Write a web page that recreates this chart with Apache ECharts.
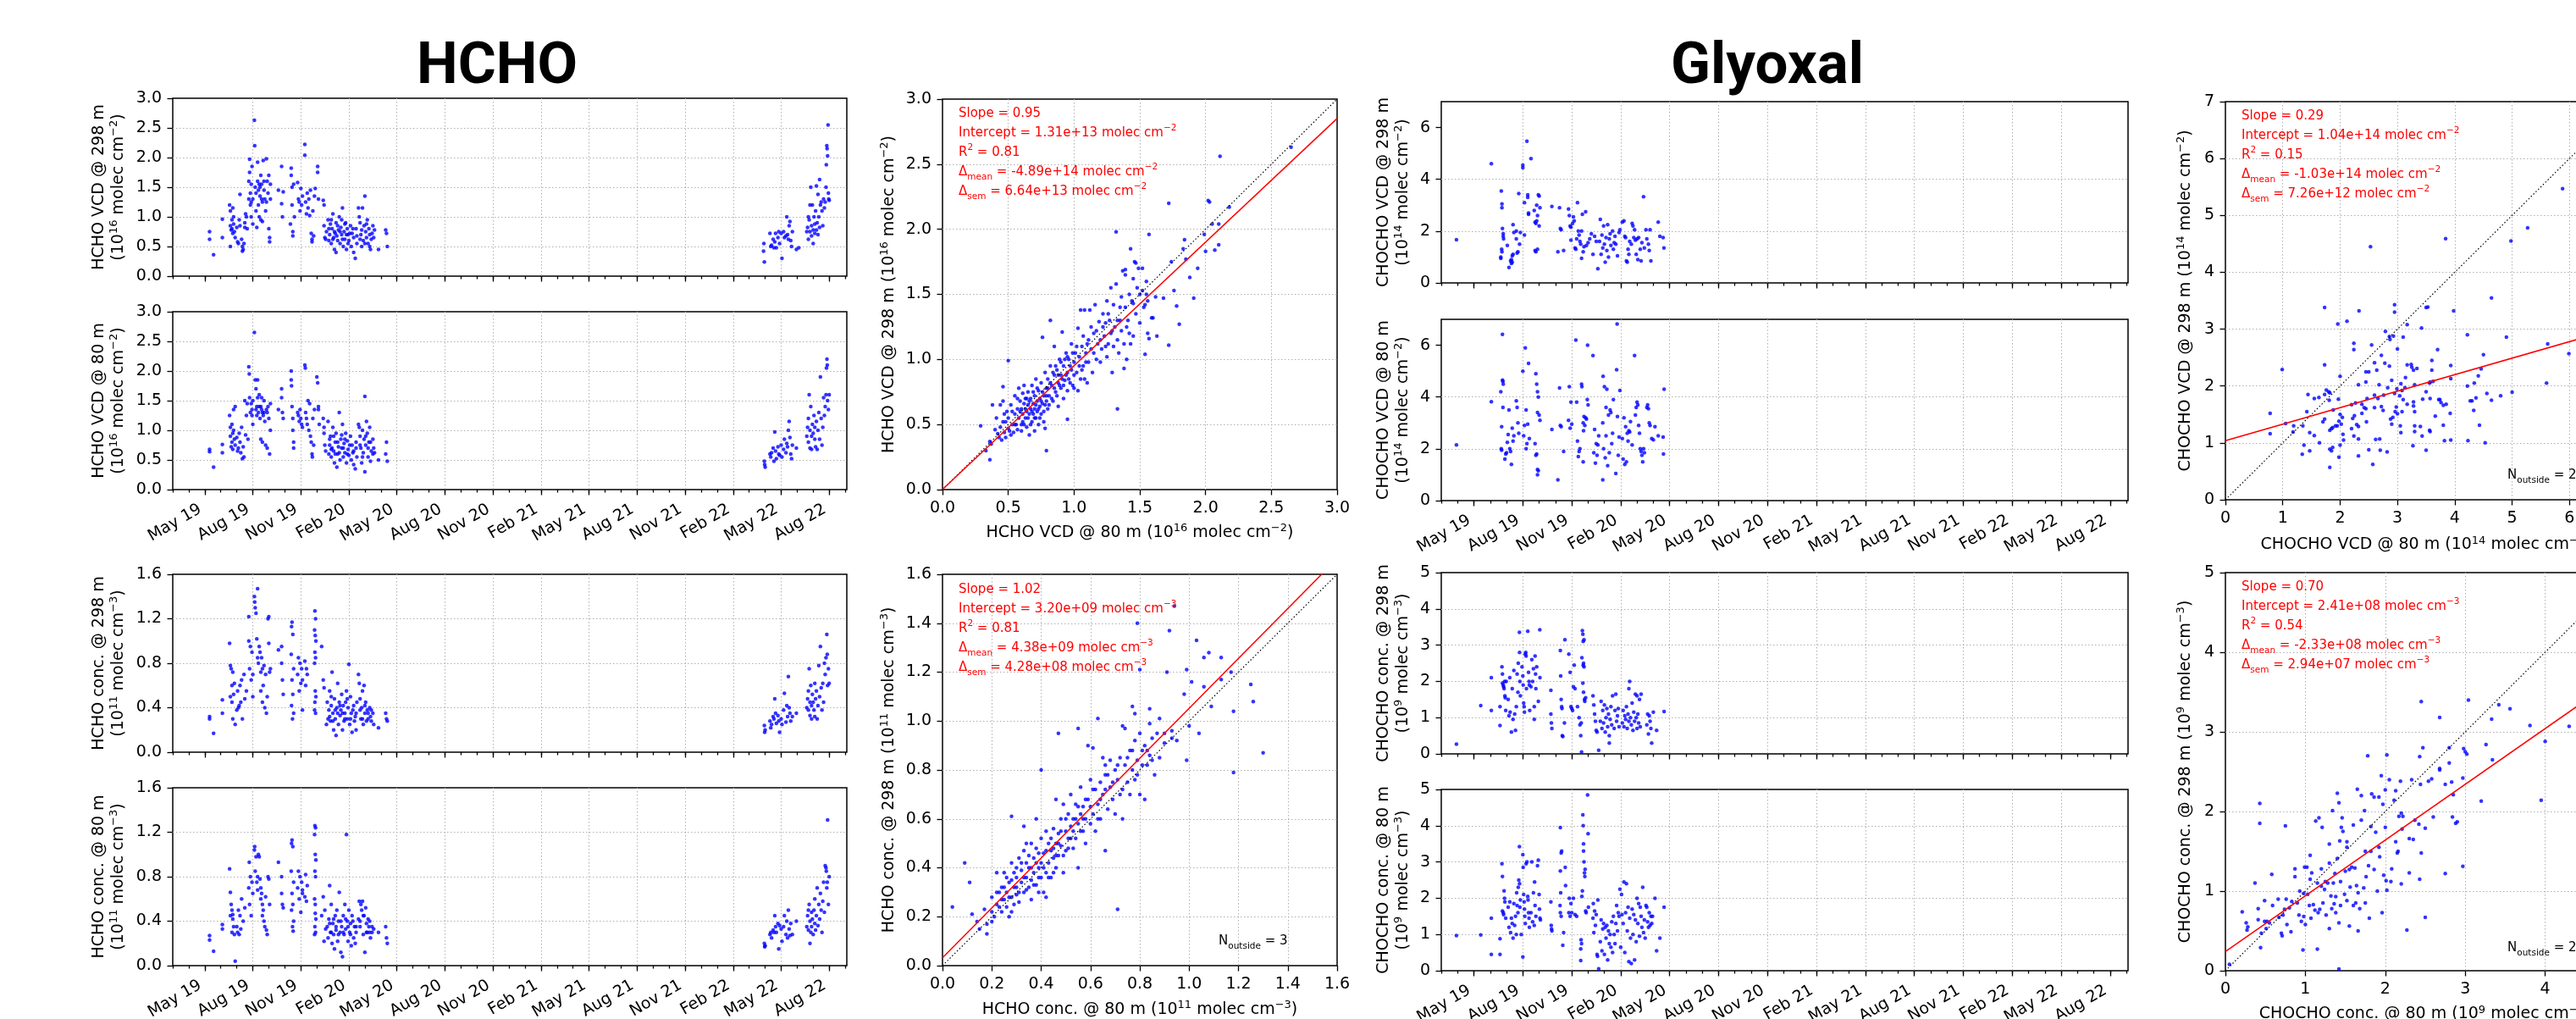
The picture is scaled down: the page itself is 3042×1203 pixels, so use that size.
<!DOCTYPE html>
<html>
<head>
<meta charset="utf-8">
<title>HCHO and glyoxal: 298 m vs 80 m</title>
<script src="https://cdn.jsdelivr.net/npm/echarts@6.0.0/dist/echarts.min.js"></script>
<style>
  html, body { margin: 0; padding: 0; background: #fff; }
  #chart { width: 3042px; height: 1203px; }
</style>
</head>
<body>
<div id="chart"></div>
<script>
// time axis is in months since 1 Jan 2019 (4 = May 19, 43 = Aug 22)
const monthTicks = [4, 7, 10, 13, 16, 19, 22, 25, 28, 31, 34, 37, 40, 43]
const monthLabels = ['May 19', 'Aug 19', 'Nov 19', 'Feb 20', 'May 20', 'Aug 20', 'Nov 20',
  'Feb 21', 'May 21', 'Aug 21', 'Nov 21', 'Feb 22', 'May 22', 'Aug 22']

const hchoVcdTicks = [0, 0.5, 1, 1.5, 2, 2.5, 3]
const hchoConcTsTicks = [0, 0.4, 0.8, 1.2, 1.6]
const hchoConcScTicks = [0, 0.2, 0.4, 0.6, 0.8, 1, 1.2, 1.4, 1.6]
const glyVcdTsTicks = [0, 2, 4, 6]
const glyVcdScTicks = [0, 1, 2, 3, 4, 5, 6, 7]
const glyConcTicks = [0, 1, 2, 3, 4, 5]

// fit statistics, order: HCHO VCD, HCHO conc, CHOCHO VCD, CHOCHO conc
const fitSlope = [0.95, 1.02, 0.29, 0.70]
const fitIntercept = [1.31e13, 3.20e9, 1.04e14, 2.41e8]
const fitR2 = [0.81, 0.81, 0.15, 0.54]
const deltaMean = [-4.89e14, 4.38e9, -1.03e14, -2.33e8]
const deltaSem = [6.64e13, 4.28e8, 7.26e12, 2.94e7]
const unitScale = [1e16, 1e11, 1e14, 1e9]
const unitPower = ['−2', '−3', '−2', '−3']
const nOutside = [0, 3, 2, 2]

// HCHO VCD @ 298 m, [month, 1e16 molec cm-2]
const hchoVcd298 = [
  [4.3,0.75],[4.3,0.62],[4.55,0.36],[5.1,0.96],[5.1,0.65],
  [5.55,1.2],[5.6,1.1],[5.6,0.85],[5.65,0.78],[5.7,0.95],[5.7,0.8],[5.75,1.15],[5.75,0.72],[5.8,0.88],[5.8,1.0],[5.85,0.75],[5.6,0.5],[5.9,0.65],
  [6.0,0.82],[6.05,0.58],[6.1,0.55],[6.15,0.95],[6.2,0.85],[6.2,1.38],[6.3,0.62],[6.35,0.5],[6.35,0.42],[6.4,0.45],[6.45,0.55],[6.5,0.9],[6.5,0.82],[6.55,1.05],[6.6,1.0],[6.65,0.8],
  [6.75,1.6],[6.75,1.3],[6.8,1.97],[6.8,1.75],[6.85,1.2],[6.85,1.4],[6.9,1.55],[6.9,1.0],[6.9,1.25],[6.95,1.85],[7.0,1.3],[7.0,0.88],
  [7.1,2.63],[7.12,2.2],[7.15,1.5],[7.2,1.4],[7.2,1.1],[7.25,0.82],[7.3,1.92],[7.3,1.6],[7.35,1.45],[7.35,1.2],[7.4,1.0],[7.4,1.55],[7.45,1.35],[7.45,1.5],[7.5,1.7],[7.5,0.95],[7.55,1.55],[7.55,1.3],[7.6,1.25],[7.6,0.92],[7.65,1.95],[7.7,1.45],[7.7,1.6],[7.75,1.3],[7.8,1.1],[7.85,1.98],[7.85,1.25],[7.9,1.6],[7.95,1.4],[8.0,1.7],[8.0,0.8],[8.05,0.65],[8.05,0.58],[8.1,1.3],[8.1,1.55],
  [8.6,1.45],[8.8,1.85],[8.8,1.22],[8.85,1.0],[8.9,1.42],
  [9.35,0.88],[9.4,1.82],[9.4,1.7],[9.45,1.5],[9.45,1.2],[9.5,0.75],[9.5,0.68],[9.55,1.55],[9.6,1.0],
  [9.8,1.58],[9.85,1.3],[9.9,1.25],[9.95,1.1],[10.0,1.48],[10.05,1.2],[10.1,1.35],
  [10.25,2.22],[10.25,2.04],[10.3,1.25],[10.35,1.05],[10.4,1.4],[10.45,1.15],[10.5,1.3],[10.55,1.02],[10.6,1.45],[10.65,0.72],[10.7,0.62],[10.7,0.58],[10.75,1.1],[10.8,0.68],[10.85,1.35],[10.9,1.48],
  [11.05,1.85],[11.05,1.75],[11.1,1.3],
  [11.4,1.28],[11.45,1.2],[11.45,0.85],[11.5,0.65],[11.55,0.62],[11.6,0.75],
  [11.7,0.95],[11.75,0.6],[11.75,0.8],[11.8,0.7],[11.85,0.88],[11.9,0.55],[11.9,0.95],[11.95,0.8],[12.0,1.05],[12.0,0.62],[12.05,0.65],[12.1,0.45],[12.1,0.75],[12.15,0.72],[12.2,0.9],[12.2,0.4],[12.25,0.68],[12.3,0.6],[12.3,0.85],[12.35,0.78],[12.4,1.0],[12.45,0.55],[12.45,0.75],[12.5,0.82],[12.55,0.7],[12.55,0.95],[12.6,1.15],[12.6,0.62],[12.65,0.5],[12.7,0.75],[12.75,0.62],[12.75,0.88],[12.8,0.9],[12.85,0.45],[12.85,0.7],[12.9,0.8],[12.95,0.7],[12.95,0.55],[13.0,0.6],[13.05,0.72],[13.1,0.85],[13.15,0.5],[13.2,0.72],[13.25,0.8],[13.3,0.4],[13.3,0.65],[13.4,0.3],[13.45,0.8],[13.5,0.55],[13.5,0.68],
  [13.6,1.15],[13.65,1.0],[13.7,0.9],[13.7,0.62],[13.75,0.7],[13.8,0.5],[13.8,0.78],[13.85,1.15],[13.9,0.6],[13.95,0.85],[14.0,1.35],[14.0,0.55],[14.05,0.75],[14.1,0.65],[14.1,0.88],[14.15,0.95],[14.2,0.55],[14.25,0.8],[14.3,0.7],[14.3,0.5],[14.35,0.45],[14.4,0.62],[14.45,0.72],[14.5,0.85],[14.55,0.65],[14.6,0.78],
  [14.85,0.45],[15.3,0.78],[15.35,0.72],[15.4,0.5],
  [38.9,0.42],[38.92,0.55],[38.95,0.24],[39.3,0.72],[39.35,0.5],[39.4,0.52],[39.5,0.62],[39.55,0.48],[39.6,0.58],[39.65,0.72],[39.7,0.48],[39.8,0.65],[39.85,0.75],[39.9,0.55],[40.0,0.72],[40.05,0.3],[40.15,0.75],[40.2,0.65],[40.3,0.68],[40.35,1.0],[40.4,0.7],[40.45,0.62],[40.5,0.85],[40.55,0.92],[40.6,0.6],[40.65,0.5],[40.7,0.75],[40.95,0.45],[41.1,0.48],
  [41.6,0.75],[41.65,0.82],[41.7,1.0],[41.7,0.62],[41.75,0.95],[41.8,1.2],[41.8,0.75],[41.85,1.5],[41.9,0.85],[41.9,0.68],[41.95,1.2],[42.0,0.78],[42.0,0.55],[42.05,1.0],[42.1,0.88],[42.1,0.72],[42.15,1.1],[42.2,1.52],[42.2,0.78],[42.25,0.9],[42.3,1.38],[42.3,0.7],[42.35,1.0],[42.4,1.63],[42.4,0.82],[42.45,1.2],[42.5,1.25],[42.55,1.1],[42.6,0.85],[42.65,1.3],[42.7,1.15],[42.75,1.25],[42.8,1.5],[42.82,1.88],[42.85,2.2],[42.87,2.15],[42.9,2.03],[42.93,2.55],[42.95,1.4],[42.97,1.3],[43.0,1.28]
]

// HCHO VCD @ 80 m
const hchoVcd80 = [
  [4.3,0.68],[4.3,0.64],[4.55,0.38],[5.1,0.76],[5.1,0.62],
  [5.55,1.25],[5.6,1.05],[5.6,0.9],[5.65,0.72],[5.7,1.1],[5.7,0.8],[5.75,0.95],[5.75,0.68],[5.8,1.35],[5.8,1.0],[5.85,0.85],[5.9,0.75],[5.9,1.4],
  [6.0,0.88],[6.05,0.65],[6.1,0.7],[6.15,0.95],[6.2,0.8],[6.25,0.62],[6.3,1.05],[6.35,0.52],[6.4,0.72],[6.45,0.55],[6.5,1.5],[6.55,0.92],[6.6,1.25],[6.65,1.45],[6.7,0.85],
  [6.75,2.07],[6.78,1.95],[6.8,1.55],[6.85,1.3],[6.9,1.45],[6.95,1.25],[6.95,1.35],[7.0,1.5],[7.0,1.1],
  [7.1,2.65],[7.15,1.85],[7.2,1.7],[7.2,1.35],[7.25,1.25],[7.25,1.4],[7.3,1.85],[7.3,1.55],[7.35,1.3],[7.4,1.6],[7.4,1.4],[7.45,1.2],[7.5,1.4],[7.5,0.85],[7.55,1.55],[7.55,1.35],[7.6,1.3],[7.6,0.8],[7.65,1.25],[7.7,1.5],[7.7,1.3],[7.75,1.15],[7.8,0.75],[7.85,1.35],[7.9,1.3],[7.9,0.7],[7.95,1.4],[8.0,1.2],[8.05,0.6],[8.1,1.45],[8.1,1.0],
  [8.6,1.35],[8.8,1.7],[8.8,1.55],[8.85,1.3],[8.9,1.2],
  [9.4,2.0],[9.4,1.85],[9.42,1.75],[9.45,1.4],[9.5,1.2],[9.5,1.0],[9.55,0.8],[9.55,0.7],
  [9.8,1.3],[9.85,1.25],[9.9,1.15],[9.95,1.35],[10.0,1.2],[10.05,1.1],[10.1,1.05],
  [10.25,2.1],[10.28,2.05],[10.3,1.3],[10.35,1.2],[10.4,1.1],[10.45,1.5],[10.5,1.0],[10.55,1.45],[10.6,0.9],[10.65,0.8],[10.7,0.6],[10.72,0.55],[10.75,1.2],[10.8,0.75],[10.85,1.35],
  [11.0,1.9],[11.05,1.8],[11.1,1.4],[11.1,1.35],[11.15,1.1],
  [11.4,1.2],[11.45,1.05],[11.45,0.95],[11.5,0.75],[11.55,0.65],
  [11.7,1.15],[11.75,0.6],[11.8,0.75],[11.8,0.85],[11.85,0.9],[11.9,0.55],[11.9,0.68],[11.95,0.7],[12.0,1.05],[12.05,0.65],[12.05,0.9],[12.1,0.45],[12.15,0.8],[12.15,0.6],[12.2,0.95],[12.25,0.38],[12.3,0.6],[12.3,0.8],[12.35,0.72],[12.4,1.3],[12.4,0.62],[12.45,0.5],[12.5,0.85],[12.55,0.7],[12.55,0.92],[12.6,1.1],[12.65,0.55],[12.65,0.7],[12.7,0.78],[12.75,0.62],[12.75,0.85],[12.8,0.95],[12.85,0.45],[12.9,0.82],[12.9,0.6],[12.95,0.68],[13.0,0.58],[13.05,0.75],[13.1,0.9],[13.15,0.5],[13.2,0.75],[13.25,0.62],[13.3,0.42],[13.3,0.65],[13.4,0.35],[13.45,0.8],[13.45,0.7],[13.5,0.55],
  [13.6,1.1],[13.65,1.05],[13.7,0.9],[13.7,0.75],[13.75,0.7],[13.8,0.45],[13.85,1.0],[13.85,0.55],[13.9,0.62],[13.95,0.85],[14.0,1.57],[14.0,0.3],[14.05,0.75],[14.05,0.9],[14.1,1.15],[14.15,0.95],[14.2,0.55],[14.2,0.7],[14.25,0.8],[14.3,1.05],[14.35,0.48],[14.35,0.8],[14.4,0.65],[14.5,0.85],[14.5,0.6],[14.55,0.7],[14.6,0.62],
  [14.85,0.5],[15.3,0.6],[15.35,0.8],[15.4,0.48],
  [38.95,0.48],[38.97,0.42],[39.0,0.38],[39.3,0.6],[39.35,0.55],[39.4,0.62],[39.5,0.7],[39.55,0.48],[39.6,0.97],[39.65,0.65],[39.7,0.52],[39.8,0.72],[39.85,0.6],[39.9,0.58],[40.0,0.75],[40.05,0.55],[40.15,0.68],[40.2,0.85],[40.3,0.62],[40.35,0.78],[40.4,0.72],[40.45,1.0],[40.5,1.15],[40.55,0.88],[40.6,0.6],[40.65,0.52],[40.7,0.75],[40.95,0.7],
  [41.6,0.9],[41.65,1.05],[41.7,1.2],[41.7,0.8],[41.75,1.6],[41.8,1.0],[41.8,0.7],[41.85,1.4],[41.9,0.9],[41.9,0.68],[41.95,1.1],[42.0,0.95],[42.05,1.25],[42.1,0.85],[42.1,1.05],[42.15,0.72],[42.2,1.15],[42.25,0.68],[42.3,1.0],[42.35,1.3],[42.4,0.85],[42.45,1.9],[42.5,1.2],[42.55,0.75],[42.6,1.05],[42.65,1.55],[42.7,1.25],[42.75,1.4],[42.8,1.6],[42.83,2.05],[42.86,2.2],[42.88,2.1],[42.9,1.5],[42.95,1.35],[43.0,1.6]
]

// HCHO conc. @ 298 m, [month, 1e11 molec cm-3]
const hchoConc298 = [
  [4.3,0.32],[4.3,0.3],[4.55,0.17],[5.1,0.47],[5.1,0.35],
  [5.55,0.98],[5.6,0.78],[5.6,0.5],[5.65,0.75],[5.7,0.6],[5.7,0.45],[5.75,0.72],[5.75,0.3],[5.8,0.52],[5.85,0.62],[5.9,0.25],
  [6.0,0.38],[6.05,0.55],[6.1,0.4],[6.15,0.42],[6.2,0.6],[6.25,0.45],[6.3,0.65],[6.35,0.3],[6.45,0.7],[6.5,0.48],[6.6,0.55],
  [6.75,1.0],[6.75,1.22],[6.8,0.75],[6.85,0.95],[6.9,0.65],[6.95,0.9],[7.0,0.5],[7.0,0.7],
  [7.1,1.4],[7.12,1.35],[7.15,1.3],[7.2,1.25],[7.3,1.47],[7.25,1.02],[7.3,0.85],[7.35,0.8],[7.4,0.95],[7.45,0.9],[7.5,0.72],[7.5,0.55],[7.55,0.85],[7.6,0.45],[7.6,0.75],[7.65,0.6],[7.7,0.78],[7.75,0.4],[7.8,0.7],[7.85,0.35],[7.9,0.5],[7.95,1.2],[8.0,1.22],[8.0,0.98],[8.05,0.72],[8.1,0.75],
  [8.6,0.92],[8.8,0.95],[8.8,0.8],[8.85,0.65],[8.9,0.52],
  [9.45,1.17],[9.42,1.13],[9.5,1.06],[9.4,0.88],[9.55,0.75],[9.45,0.65],[9.5,0.52],[9.42,0.42],[9.55,0.35],[9.48,0.3],
  [9.8,0.7],[9.85,0.85],[9.9,0.55],[9.95,0.8],[10.0,0.62],[10.05,0.75],[10.1,0.65],[10.1,0.38],
  [10.25,0.82],[10.3,0.6],[10.35,0.75],[10.4,0.7],
  [10.88,1.27],[10.92,1.2],[10.86,1.1],[10.9,1.05],[10.94,1.0],[10.88,0.9],[10.92,0.85],[10.86,0.8],[10.9,0.55],[10.94,0.5],[10.88,0.45],[10.92,0.35],[10.86,0.38],
  [11.3,0.95],[11.4,0.65],[11.45,0.58],
  [11.6,0.25],[11.65,0.45],[11.7,0.3],[11.75,0.38],[11.8,0.55],[11.8,0.32],[11.85,0.28],[11.9,0.42],[11.9,0.5],[11.95,0.72],[12.0,0.35],[12.0,0.28],[12.05,0.2],[12.1,0.48],[12.15,0.3],[12.15,0.38],[12.2,0.15],[12.25,0.4],[12.3,0.62],[12.3,0.35],[12.35,0.25],[12.4,0.45],[12.45,0.33],[12.45,0.42],[12.5,0.38],[12.55,0.52],[12.6,0.2],[12.6,0.35],[12.65,0.42],[12.7,0.28],[12.75,0.35],[12.75,0.3],[12.8,0.45],[12.85,0.55],[12.9,0.3],[12.9,0.48],[12.95,0.4],[13.0,0.79],[13.05,0.25],[13.1,0.5],[13.1,0.3],[13.15,0.35],[13.2,0.18],[13.25,0.38],[13.3,0.42],[13.35,0.28],[13.4,0.32],[13.45,0.2],[13.45,0.35],[13.5,0.45],
  [13.6,0.7],[13.65,0.62],[13.7,0.48],[13.7,0.38],[13.75,0.3],[13.8,0.4],[13.85,0.55],[13.85,0.3],[13.9,0.25],[13.95,0.6],[14.0,0.35],[14.0,0.42],[14.05,0.45],[14.1,0.28],[14.15,0.38],[14.2,0.3],[14.2,0.35],[14.3,0.4],[14.35,0.32],[14.4,0.28],[14.4,0.38],[14.5,0.35],[14.55,0.25],
  [14.85,0.22],[15.3,0.35],[15.35,0.3],[15.4,0.28],
  [38.95,0.24],[38.97,0.18],[39.0,0.2],[39.3,0.28],[39.35,0.22],[39.4,0.25],[39.5,0.32],[39.55,0.3],[39.6,0.48],[39.65,0.35],[39.7,0.26],[39.8,0.33],[39.85,0.28],[39.9,0.18],[40.0,0.3],[40.05,0.25],[40.15,0.38],[40.2,0.53],[40.3,0.27],[40.35,0.42],[40.4,0.32],[40.45,0.68],[40.5,0.4],[40.55,0.35],[40.6,0.28],[40.7,0.32],[40.95,0.35],
  [41.6,0.4],[41.65,0.48],[41.7,0.55],[41.7,0.38],[41.75,0.75],[41.8,0.45],[41.8,0.33],[41.85,0.6],[41.9,0.42],[41.9,0.3],[41.95,0.52],[42.0,0.45],[42.05,0.38],[42.1,0.62],[42.1,0.32],[42.15,0.48],[42.2,0.55],[42.25,0.3],[42.3,0.42],[42.35,0.78],[42.4,0.5],[42.45,0.95],[42.5,0.58],[42.55,0.38],[42.6,0.62],[42.65,0.45],[42.7,0.8],[42.75,0.7],[42.8,0.85],[42.85,1.06],[42.88,0.88],[42.9,0.6],[42.95,0.75],[43.0,0.62]
]

// HCHO conc. @ 80 m
const hchoConc80 = [
  [4.3,0.27],[4.3,0.23],[4.55,0.13],[5.1,0.37],[5.1,0.33],[5.9,0.04],
  [5.55,0.87],[5.6,0.66],[5.6,0.45],[5.65,0.55],[5.7,0.5],[5.7,0.3],[5.75,0.46],[5.75,0.42],[5.8,0.35],[5.85,0.28],
  [6.0,0.35],[6.05,0.3],[6.1,0.5],[6.15,0.28],[6.2,0.45],[6.25,0.33],[6.3,0.6],[6.4,0.4],[6.5,0.52],
  [6.75,0.7],[6.78,0.93],[6.8,0.55],[6.85,0.8],[6.9,0.45],[6.95,0.75],[7.0,0.65],
  [7.12,1.07],[7.1,1.04],[7.2,0.98],[7.15,0.85],[7.3,0.8],[7.25,0.75],[7.3,0.68],[7.35,1.0],[7.4,0.98],[7.45,0.78],[7.5,0.7],[7.5,0.6],[7.55,0.65],[7.6,0.55],[7.6,0.45],[7.65,0.5],[7.7,0.4],[7.75,0.35],[7.8,0.62],[7.85,0.32],[7.9,0.28],[7.95,0.8],[8.0,0.78],[8.05,0.55],
  [8.6,0.93],[8.8,0.8],[8.8,0.65],[8.85,0.55],[8.9,0.52],
  [9.45,1.13],[9.42,1.1],[9.5,1.07],[9.4,0.85],[9.55,0.75],[9.45,0.65],[9.5,0.55],[9.42,0.5],[9.55,0.4],[9.48,0.35],[9.52,0.31],
  [9.8,0.7],[9.85,0.85],[9.9,0.6],[9.95,0.8],[10.0,0.48],[10.05,0.75],[10.1,0.68],[10.1,0.65],
  [10.25,0.62],[10.3,0.82],[10.35,0.58],[10.4,0.72],
  [10.88,1.26],[10.92,1.24],[10.86,1.18],[10.9,1.0],[10.94,0.95],[10.88,0.85],[10.92,0.8],[10.86,0.6],[10.9,0.55],[10.94,0.42],[10.88,0.35],[10.92,0.3],[10.86,0.28],[10.9,0.47],
  [11.3,0.45],[11.4,0.62],[11.45,0.22],[11.5,0.5],[11.55,0.33],
  [11.65,0.35],[11.7,0.25],[11.75,0.42],[11.8,0.72],[11.8,0.38],[11.85,0.3],[11.9,0.55],[11.9,0.3],[11.95,0.2],[12.0,0.38],[12.05,0.28],[12.05,0.42],[12.1,0.15],[12.15,0.45],[12.2,0.32],[12.2,0.35],[12.25,0.5],[12.3,0.22],[12.35,0.4],[12.35,0.28],[12.4,0.66],[12.45,0.3],[12.5,0.12],[12.5,0.4],[12.55,0.35],[12.6,0.08],[12.65,0.45],[12.65,0.3],[12.7,0.28],[12.75,0.55],[12.8,0.33],[12.8,0.42],[12.85,1.18],[12.9,0.4],[12.95,0.22],[12.95,0.35],[13.0,0.5],[13.05,0.3],[13.1,0.38],[13.1,0.28],[13.15,0.18],[13.2,0.45],[13.25,0.4],[13.3,0.25],[13.35,0.35],[13.4,0.2],[13.45,0.3],[13.45,0.35],
  [13.6,0.42],[13.65,0.58],[13.7,0.35],[13.7,0.4],[13.75,0.55],[13.8,0.5],[13.85,0.58],[13.9,0.28],[13.9,0.45],[13.95,0.45],[14.0,0.12],[14.05,0.52],[14.1,0.38],[14.1,0.3],[14.15,0.3],[14.2,0.42],[14.25,0.35],[14.3,0.3],[14.3,0.4],[14.35,0.25],[14.45,0.3],[14.45,0.35],[14.55,0.33],
  [14.85,0.3],[15.3,0.35],[15.35,0.25],[15.4,0.2],
  [38.95,0.2],[38.97,0.17],[39.0,0.18],[39.3,0.28],[39.35,0.3],[39.4,0.25],[39.5,0.32],[39.55,0.3],[39.6,0.45],[39.65,0.35],[39.7,0.3],[39.8,0.38],[39.85,0.15],[39.9,0.36],[40.0,0.33],[40.05,0.22],[40.15,0.35],[40.2,0.45],[40.3,0.28],[40.35,0.4],[40.4,0.25],[40.45,0.5],[40.5,0.33],[40.55,0.27],[40.6,0.38],[40.7,0.28],[40.95,0.4],
  [41.6,0.35],[41.65,0.45],[41.7,0.5],[41.7,0.32],[41.75,0.55],[41.8,0.2],[41.8,0.4],[41.85,0.3],[41.9,0.48],[41.9,0.35],[41.95,0.42],[42.0,0.28],[42.05,0.5],[42.1,0.38],[42.1,0.6],[42.15,0.32],[42.2,0.45],[42.25,0.7],[42.3,0.36],[42.35,0.55],[42.4,0.42],[42.45,0.65],[42.5,0.5],[42.55,0.3],[42.6,0.58],[42.65,0.75],[42.7,0.48],[42.75,0.9],[42.8,0.88],[42.82,0.85],[42.85,0.7],[42.88,0.75],[42.9,1.31],[42.95,0.55],[43.0,0.8]
]

// CHOCHO VCD @ 298 m, [month, 1e14 molec cm-2]
const glyVcd298 = [
  [2.93,1.67],[5.07,4.6],
  [5.68,3.55],[5.72,3.05],[5.72,2.9],[5.75,2.1],[5.7,1.3],[5.72,1.2],[5.65,1.0],[5.65,0.95],[5.8,1.9],[5.8,1.8],[5.82,1.7],
  [6.05,1.45],[6.15,0.6],[6.25,0.85],[6.3,0.9],[6.35,1.05],[6.4,1.1],[6.4,2.25],[6.45,1.95],[6.3,0.75],[6.35,0.8],[6.6,2.0],[6.6,1.7],[6.7,1.2],[6.65,1.15],[6.75,3.45],[6.8,1.5],[6.85,1.95],
  [7.0,4.55],[7.0,4.45],[7.25,5.47],[7.1,3.1],[7.3,3.4],[7.3,3.3],[7.35,2.7],[7.35,2.65],[7.5,4.8],[7.1,1.85],
  [7.7,2.8],[7.75,2.35],[7.8,2.3],[7.85,2.4],[7.85,3.0],[7.95,3.4],[8.0,3.35],[7.9,2.6],[8.0,2.2],[7.75,1.25],[7.9,1.3],[7.8,1.2],[8.05,2.9],
  [8.78,2.95],[9.15,1.2],[9.25,2.9],[9.3,2.1],[9.35,2.05],[9.5,1.25],
  [9.8,2.85],[9.85,2.6],[9.9,2.2],[9.95,2.15],[9.95,1.65],[10.05,2.3],[10.1,2.55],[10.15,2.4],[10.2,1.35],[10.25,1.3],[10.3,1.7],[10.35,3.1],[10.4,2.0],[10.45,1.85],[10.5,1.6],[10.55,1.5],[10.6,0.95],[10.6,2.0],[10.65,2.65],[10.7,1.2],[10.75,1.4],
  [10.85,2.75],[10.9,1.45],[11.0,1.55],[11.1,1.7],[11.2,1.9],[11.6,0.55],[11.3,1.1],[11.4,1.8],[11.5,1.6],
  [11.7,1.6],[11.75,2.45],[11.8,1.1],[11.85,1.85],[11.9,1.35],[11.95,2.2],[12.0,1.5],[12.05,0.8],[12.1,1.75],[12.15,1.25],[12.2,2.25],[12.25,1.0],[12.3,1.7],[12.35,1.9],[12.4,1.45],[12.5,2.0],[12.55,1.3],[12.6,1.55],[12.65,1.8],[12.7,1.5],[12.8,1.05],[12.9,1.95],[12.95,2.05],
  [13.1,2.35],[13.2,2.4],[13.25,1.8],[13.3,1.75],[13.35,0.85],[13.4,0.8],[13.45,1.3],[13.5,1.1],[13.55,1.6],[13.65,1.5],[13.7,2.3],[13.75,2.2],[13.8,1.75],[13.85,2.05],[13.9,1.65],[13.95,1.1],[14.0,1.7],[14.05,0.9],[14.1,1.75],[14.2,1.3],[14.25,0.85],[14.3,1.55],[14.4,3.33],[14.45,1.35],
  [14.55,2.05],[14.6,1.7],[14.7,1.5],[14.75,1.25],[14.85,0.85],[14.8,2.05],[15.3,2.35],[15.4,1.8],[15.6,1.75],[15.65,1.35]
]

// CHOCHO VCD @ 80 m
const glyVcd80 = [
  [2.93,2.15],[5.07,3.82],
  [5.65,4.2],[5.7,2.85],[5.68,2.0],[5.7,1.95],[5.75,4.65],[5.78,4.6],[5.8,4.5],[5.75,6.42],[5.78,3.6],
  [5.9,1.6],[5.95,1.8],[6.0,1.85],[6.05,2.25],[6.1,2.55],[6.15,3.5],[6.2,2.0],[6.25,1.9],[6.3,1.4],[6.35,2.8],[6.4,2.3],[6.45,2.5],[6.6,3.85],[6.65,3.6],[6.7,3.0],[6.75,2.6],
  [7.0,5.0],[7.15,5.9],[7.2,3.5],[7.05,2.5],[7.1,2.9],[7.2,2.0],[7.25,2.2],[7.35,5.3],[7.3,2.95],[7.4,2.4],
  [7.8,4.9],[7.85,4.5],[7.9,4.2],[7.95,4.0],[7.9,3.4],[8.0,3.3],[8.05,3.1],[7.75,2.2],[7.8,1.75],[7.85,1.8],[7.9,1.2],[7.95,1.15],[7.9,1.0],
  [8.78,2.75],[9.15,0.8],[9.25,4.35],[9.3,2.9],[9.35,2.85],[9.5,1.9],
  [9.8,3.1],[9.85,4.4],[9.9,2.8],[9.95,3.8],[10.0,2.95],[10.25,6.2],[10.3,3.8],[10.35,2.3],[10.4,1.7],[10.45,1.9],[10.5,2.0],[10.6,4.5],[10.62,4.4],[10.7,3.0],[10.72,2.7],[10.75,3.25],[10.8,2.9],[10.85,3.2],[10.9,3.15],[10.7,1.5],[10.95,3.9],[10.97,6.0],[11.0,3.7],
  [11.3,5.6],[11.35,1.85],[11.4,2.75],[11.45,1.45],[11.5,2.2],[11.55,1.75],[11.6,2.15],[11.65,2.5],
  [11.9,3.0],[11.92,4.8],[11.95,2.0],[12.0,4.4],[12.05,1.65],[12.1,3.6],[12.1,2.5],[12.15,4.3],[12.2,1.35],[12.25,3.3],[12.3,1.85],[12.35,3.5],[11.9,0.8],[12.4,3.4],[12.45,2.2],[12.5,2.6],[12.55,3.9],[12.78,6.82],[12.75,5.05],[12.8,3.25],[12.7,1.05],[12.85,1.75],[12.9,2.45],[12.95,4.25],
  [13.1,2.4],[13.15,1.6],[13.2,3.2],[13.25,1.4],[13.3,2.85],[13.35,1.5],[13.4,2.6],[13.45,2.3],[13.5,2.7],[13.55,2.65],[13.6,3.05],[13.7,2.15],[13.85,5.6],[13.9,3.3],[13.95,3.6],[14.0,3.8],[14.05,3.7],[14.1,2.9],[14.15,2.6],[14.2,2.0],[14.25,1.9],[14.3,1.75],[14.35,1.5],[14.4,2.0],[14.45,1.85],
  [14.6,3.6],[14.65,3.7],[14.7,3.55],[14.75,3.0],[14.8,2.9],[14.9,2.4],[15.0,2.35],[15.1,2.85],[15.3,2.5],[15.66,4.3],[15.6,2.45],[15.62,1.8]
]

// CHOCHO conc. @ 298 m, [month, 1e9 molec cm-3]
const glyConc298 = [
  [2.93,0.27],[4.42,1.33],[5.07,1.2],[5.07,2.1],[5.6,0.78],[5.6,1.3],
  [5.72,2.4],[5.75,2.2],[5.75,1.95],[5.8,1.9],[5.82,1.85],[5.85,1.8],[5.88,2.0],[5.9,1.6],[5.92,1.55],[5.95,1.2],[5.98,2.0],
  [6.1,1.5],[6.15,1.05],[6.2,2.1],[6.22,1.15],[6.3,0.6],[6.35,1.8],[6.4,0.95],[6.45,2.3],[6.5,1.1],[6.55,0.65],[6.6,1.3],[6.65,2.2],[6.7,1.7],[6.72,2.5],[6.79,3.35],[6.8,2.8],[6.82,2.0],[6.85,1.6],
  [6.95,2.4],[7.0,2.15],[7.02,1.9],[7.05,1.4],[7.08,1.3],[7.1,1.15],[7.15,2.75],[7.18,2.8],[7.2,2.7],[7.22,1.8],[7.3,3.38],[7.35,2.25],[7.38,2.0],[7.4,1.9],[7.42,1.2],
  [7.5,1.85],[7.55,2.6],[7.6,2.0],[7.65,2.35],[7.7,1.3],[7.75,2.7],[7.78,2.2],[7.8,1.8],[7.85,2.4],[7.7,0.95],[8.04,3.42],[7.95,1.45],[8.05,2.1],
  [8.72,1.75],[8.72,1.1],[8.75,0.85],[8.78,0.7],[9.3,2.85],[9.32,2.15],[9.35,1.5],[9.38,1.3],[9.4,1.25],[9.42,0.5],[9.45,0.48],[9.55,0.85],[9.58,3.15],
  [9.82,2.75],[9.9,2.25],[9.95,1.3],[10.0,1.25],[10.05,1.2],[10.1,1.85],[10.15,2.45],[10.2,1.8],[10.35,1.3],[10.6,0.05],[10.45,1.0],[10.5,0.8],[10.55,0.5],[10.58,0.85],[10.62,2.65],[10.65,3.4],[10.68,3.3],[10.7,3.1],[10.75,3.15],[10.72,2.5],[10.7,2.45],[10.75,2.4],[10.68,1.95],[10.72,1.7],[10.78,1.5],[10.8,1.45],[10.85,1.55],
  [11.3,1.6],[11.35,1.35],[11.4,1.1],[11.45,0.9],[11.5,0.65],[11.55,0.6],[11.65,0.1],
  [11.75,0.9],[11.8,1.45],[11.85,0.7],[11.9,1.2],[11.95,0.85],[12.0,1.35],[12.05,0.6],[12.1,1.0],[12.15,1.25],[12.2,0.75],[12.25,1.1],[12.3,0.5],[12.35,0.95],[12.4,1.3],[12.3,0.3],[12.45,0.8],[12.5,1.6],[12.6,0.7],[12.65,1.2],[12.7,1.65],[12.75,0.9],[12.8,1.05],[12.85,1.25],[12.9,0.75],
  [13.1,0.85],[13.15,1.2],[13.2,0.75],[13.25,1.05],[13.3,0.95],[13.35,1.3],[13.4,0.7],[13.45,1.1],[13.5,0.9],[13.55,2.0],[13.5,1.8],[13.6,1.0],[13.65,0.8],[13.7,1.4],[13.75,0.65],[13.8,1.15],[13.85,0.9],[13.9,1.65],[13.95,1.0],[14.0,0.7],[14.05,1.1],[14.1,0.85],[14.15,1.5],[14.0,1.6],[14.2,0.75],[14.25,1.65],
  [14.6,0.8],[14.65,1.1],[14.7,0.55],[14.75,1.05],[14.8,0.9],[14.85,0.7],[14.9,0.3],[15.0,1.15],[15.2,0.65],[15.66,1.17]
]

// CHOCHO conc. @ 80 m
const glyConc80 = [
  [2.93,0.97],[4.42,0.99],[5.07,1.45],[5.07,0.45],[5.6,0.88],[5.6,0.45],
  [5.72,2.95],[5.75,2.6],[5.75,1.65],[5.8,1.6],[5.82,1.55],[5.85,2.2],[5.88,2.0],[5.9,1.9],[5.95,1.45],
  [6.1,1.75],[6.15,1.2],[6.2,1.9],[6.25,1.05],[6.3,1.45],[6.35,1.3],[6.4,0.9],[6.45,1.85],[6.5,1.25],[6.55,1.5],[6.6,1.0],[6.62,2.15],[6.65,1.8],[6.7,1.6],[6.72,2.3],[6.75,2.5],[6.79,3.42],[6.8,2.4],[6.82,1.75],[6.85,1.95],[6.9,1.0],
  [7.0,3.2],[7.02,2.85],[7.05,2.1],[7.08,1.9],[7.1,1.7],[7.12,1.5],[7.15,1.3],[7.0,0.38],[7.2,2.95],[7.25,3.0],[7.3,2.05],[7.32,1.95],[7.35,1.6],[7.38,1.45],[7.4,1.2],
  [7.5,1.6],[7.55,3.0],[7.6,1.35],[7.65,2.15],[7.7,1.25],[7.72,2.45],[7.75,1.8],[7.8,1.5],[7.9,2.9],[7.95,3.05],[8.0,2.1],[8.02,1.7],[8.05,1.45],[8.08,1.4],
  [8.72,1.9],[8.74,1.25],[8.76,1.15],[8.78,1.1],[9.3,3.95],[9.35,3.25],[9.38,3.3],[9.3,2.75],[9.32,2.15],[9.28,1.8],[9.3,1.6],[9.35,1.5],[9.45,0.7],[9.5,1.05],[9.6,2.85],[9.62,2.35],
  [9.82,1.6],[9.85,2.0],[9.9,1.5],[9.95,1.85],[10.0,1.6],[10.1,2.0],[10.2,1.55],[10.3,1.5],[10.55,0.6],[10.57,0.85],[10.6,0.75],[10.55,0.28],[10.62,2.05],[10.65,2.2],[10.68,4.3],[10.7,4.0],[10.72,3.3],[10.72,3.5],[10.75,3.0],[10.78,2.7],[10.8,2.6],[10.82,2.8],[10.85,1.65],[10.88,1.6],[10.97,4.85],[11.0,3.78],[11.02,1.75],
  [11.3,1.45],[11.32,1.85],[11.35,1.05],[11.4,1.65],[11.45,1.25],[11.5,1.55],[11.55,0.45],[11.58,0.4],[11.65,0.05],[11.6,1.95],
  [11.75,0.8],[11.8,1.4],[11.85,0.55],[11.9,1.15],[11.95,1.3],[12.0,0.45],[12.05,1.2],[12.1,0.9],[12.15,1.25],[12.2,0.3],[12.25,1.1],[12.3,0.75],[12.35,1.0],[12.4,0.65],[12.45,1.35],[12.5,0.5],[12.55,1.5],[12.6,1.0],[12.65,0.75],[12.7,1.3],[12.75,1.8],[12.8,1.1],[12.85,1.6],[12.9,1.5],[12.95,2.25],[13.0,0.65],[13.05,2.1],[13.08,1.55],
  [13.15,1.3],[13.2,2.45],[13.25,0.5],[13.3,1.6],[13.35,2.4],[13.4,1.1],[13.45,1.75],[13.5,0.25],[13.55,1.45],[13.6,0.9],[13.65,0.2],[13.7,1.7],[13.75,1.0],[13.8,1.55],[13.85,0.3],[13.9,1.4],[13.95,0.8],[14.0,2.0],[14.05,1.3],[14.1,1.85],[14.15,0.95],[14.2,1.75],[14.25,1.5],[14.3,1.2],[14.35,2.3],[14.4,1.05],[14.45,1.4],[14.5,0.9],[14.55,1.8],[14.6,1.75],
  [14.65,1.35],[14.7,1.2],[14.75,1.6],[14.8,1.25],[14.85,1.5],[14.9,1.3],[14.95,1.5],[15.2,0.55],[15.1,2.0],[15.4,0.9],[15.66,1.75]
]

// HCHO VCD scatter, [80 m, 298 m] in 1e16 molec cm-2
const hchoVcdPairs = [
  [2.65,2.63],[2.11,2.56],[1.72,2.2],[2.02,2.22],[2.03,2.21],[2.18,2.17],[2.05,2.04],[2.1,2.04],[1.99,1.96],[1.32,1.98],[1.57,1.96],[2.1,1.88],[2.0,1.83],[2.07,1.84],[1.84,1.92],[1.83,1.85],[1.43,1.85],[1.85,1.77],[1.74,1.75],[1.94,1.7],[1.88,1.63],[1.91,1.47],[1.68,1.47],[1.76,1.53],[1.78,1.41],[1.8,1.27],[1.72,1.11],[1.33,0.62],[0.79,0.3],[0.29,0.49],[0.36,0.23],[0.82,1.3],[0.5,0.99],[0.46,0.79],[0.95,0.54],[1.54,1.04],[1.57,1.16],[1.59,1.32],[1.63,1.18],[1.47,1.74],[1.49,1.7],[1.39,1.69],[1.39,1.65],[1.55,1.6],[1.52,1.53],[1.45,1.43],[1.54,1.42],[1.56,1.45],[1.5,1.5],
  [0.33,0.3],[0.36,0.37],[0.37,0.35],[0.38,0.65],[0.4,0.46],[0.41,0.55],[0.42,0.43],[0.43,0.4],[0.44,0.48],[0.44,0.65],[0.45,0.38],[0.46,0.52],[0.46,0.68],[0.47,0.44],[0.47,0.58],[0.48,0.4],[0.48,0.52],[0.49,0.6],[0.5,0.47],[0.5,0.55],[0.51,0.45],[0.52,0.65],[0.52,0.42],[0.53,0.5],[0.53,0.6],[0.54,0.44],[0.55,0.72],[0.55,0.58],[0.55,0.5],[0.56,0.5],[0.57,0.62],[0.57,0.46],[0.57,0.7],[0.58,0.55],[0.58,0.78],[0.59,0.68],[0.59,0.6],[0.6,0.5],[0.6,0.62],[0.6,0.45],
  [0.61,0.74],[0.61,0.58],[0.61,0.52],[0.62,0.66],[0.62,0.8],[0.62,0.5],[0.63,0.55],[0.63,0.7],[0.63,0.62],[0.64,0.6],[0.64,0.48],[0.64,0.7],[0.65,0.65],[0.65,0.75],[0.65,0.55],[0.66,0.58],[0.66,0.42],[0.66,0.68],[0.67,0.7],[0.67,0.62],[0.67,0.5],[0.68,0.8],[0.68,0.52],[0.68,0.6],[0.69,0.66],[0.69,0.58],[0.69,0.75],[0.7,0.72],[0.7,0.45],[0.7,0.62],[0.7,0.55],[0.71,0.85],[0.71,0.55],[0.71,0.65],[0.72,0.68],[0.72,0.6],[0.72,0.78],[0.73,0.76],[0.73,0.5],[0.73,0.62],[0.74,0.64],[0.74,0.7],[0.74,0.55],[0.75,0.82],[0.75,0.58],[0.75,0.68],[0.76,0.66],[0.76,1.17],[0.76,0.75],[0.77,0.72],[0.77,0.6],[0.77,0.52],[0.78,0.9],[0.78,0.47],[0.78,0.65],[0.79,0.68],[0.79,0.78],[0.79,0.72],[0.8,0.62],[0.8,0.85],[0.8,0.78],
  [0.81,0.72],[0.81,0.65],[0.82,0.95],[0.82,0.82],[0.83,0.8],[0.83,0.7],[0.84,0.68],[0.84,0.9],[0.85,0.88],[0.85,1.1],[0.85,0.78],[0.86,0.75],[0.86,0.95],[0.87,0.92],[0.87,0.72],[0.88,0.64],[0.88,0.82],[0.88,0.88],[0.89,1.0],[0.89,0.8],[0.9,0.78],[0.9,0.88],[0.9,0.98],[0.91,1.21],[0.91,0.85],[0.92,0.7],[0.92,0.95],[0.92,0.8],[0.93,0.84],[0.93,1.0],[0.94,1.05],[0.94,0.88],[0.95,0.9],[0.95,0.76],[0.95,1.02],[0.96,1.0],[0.96,0.85],[0.97,0.82],[0.97,0.95],[0.98,1.12],[0.98,0.92],[0.99,0.8],[0.99,1.05],[1.0,0.98],[1.0,0.78],[1.0,0.88],[1.01,1.05],[1.02,0.9],[1.02,1.1],[1.03,1.24],[1.03,0.76],[1.04,0.95],[1.04,1.02],[1.05,1.38],[1.05,0.85],[1.06,1.1],[1.06,0.92],[1.07,0.95],[1.07,1.18],[1.08,1.38],[1.08,0.85],[1.09,1.05],[1.09,0.98],[1.1,1.12],[1.1,0.82],
  [1.11,0.98],[1.11,1.15],[1.12,1.38],[1.13,1.08],[1.13,1.25],[1.14,0.9],[1.15,1.2],[1.15,1.05],[1.16,1.42],[1.17,1.0],[1.17,1.22],[1.18,1.12],[1.19,1.29],[1.2,0.98],[1.2,1.15],[1.21,1.08],[1.22,1.35],[1.22,1.25],[1.23,1.18],[1.24,1.28],[1.24,1.1],[1.25,1.45],[1.25,1.02],[1.26,1.12],[1.26,1.35],[1.27,1.3],[1.28,1.2],[1.28,1.55],[1.29,0.9],[1.29,1.22],[1.3,1.42],[1.3,1.1],[1.31,1.25],[1.32,1.58],[1.33,1.15],[1.33,1.3],[1.34,1.05],[1.35,1.3],[1.35,1.4],[1.36,1.22],[1.36,1.48],[1.37,1.68],[1.38,1.12],[1.38,0.93],[1.39,1.4],[1.4,1.0],[1.4,1.25],[1.41,1.3],[1.42,1.2],[1.42,1.5],[1.43,1.12],[1.44,1.45],[1.45,1.62],[1.45,1.18],[1.46,1.75],[1.47,1.35],[1.48,1.55],[1.5,1.28],[1.52,1.7],[1.53,1.4],[1.55,1.5],[1.56,1.2],[1.6,1.32],[1.62,1.48]
]

// HCHO conc. scatter, [80 m, 298 m] in 1e11 molec cm-3
const hchoConcPairs = [
  [0.94,1.47],[0.79,1.4],[0.92,1.37],[1.03,1.33],[1.08,1.28],[1.13,1.26],[1.06,1.26],[0.91,1.2],[0.8,1.21],[0.99,1.21],[1.17,1.2],[1.13,1.17],[1.01,1.16],[1.06,1.14],[1.25,1.15],[0.98,1.11],[1.26,1.08],[1.09,1.06],[1.18,1.04],[1.3,0.87],[1.18,0.79],[0.99,0.84],[1.04,0.95],[1.0,0.98],[0.71,0.23],[0.04,0.24],[0.09,0.42],[0.11,0.34],[0.12,0.21],[0.4,0.8],[0.47,0.95],[0.55,0.97],[0.63,1.01],[0.61,0.89],[0.66,0.82],[0.78,1.03],[0.84,0.99],[0.88,1.01],[0.95,0.92],[0.93,0.93],
  [0.14,0.18],[0.15,0.15],[0.17,0.23],[0.18,0.13],[0.18,0.17],[0.2,0.22],[0.2,0.28],[0.2,0.18],[0.21,0.2],[0.22,0.25],[0.22,0.38],[0.22,0.3],[0.23,0.3],[0.23,0.24],[0.24,0.22],[0.24,0.32],[0.24,0.27],[0.25,0.27],[0.25,0.38],[0.25,0.32],[0.26,0.3],[0.26,0.24],[0.26,0.36],[0.27,0.34],[0.27,0.2],[0.27,0.28],[0.28,0.28],[0.28,0.61],[0.28,0.42],[0.28,0.35],[0.28,0.22],[0.29,0.32],[0.29,0.25],[0.29,0.38],[0.3,0.36],[0.3,0.29],[0.3,0.32],[0.3,0.4],[0.31,0.44],[0.31,0.26],[0.31,0.3],[0.32,0.34],[0.32,0.39],[0.32,0.42],[0.33,0.3],[0.33,0.57],[0.33,0.47],[0.33,0.36],[0.34,0.36],[0.34,0.42],[0.34,0.31],[0.34,0.5],[0.35,0.32],[0.35,0.4],[0.35,0.45],[0.36,0.35],[0.36,0.5],[0.36,0.27],[0.36,0.4],[0.37,0.44],[0.37,0.38],[0.37,0.33],[0.38,0.6],[0.38,0.33],[0.38,0.48],[0.38,0.42],[0.39,0.4],[0.39,0.36],[0.39,0.46],[0.39,0.3],[0.4,0.52],[0.4,0.42],[0.4,0.36],[0.41,0.3],[0.41,0.46],[0.41,0.4],[0.42,0.38],[0.42,0.55],[0.42,0.28],[0.42,0.47],[0.43,0.5],[0.43,0.42],[0.43,0.36],[0.44,0.47],[0.44,0.36],[0.44,0.52],[0.45,0.56],[0.45,0.44],[0.45,0.48],[0.45,0.38],[0.46,0.5],[0.46,0.68],[0.46,0.4],[0.46,0.45],[0.47,0.54],[0.47,0.45],[0.47,0.5],[0.48,0.6],[0.48,0.49],[0.48,0.55],[0.49,0.66],[0.49,0.38],[0.49,0.45],[0.5,0.55],[0.5,0.47],[0.5,0.6],
  [0.51,0.62],[0.51,0.52],[0.51,0.48],[0.52,0.57],[0.52,0.7],[0.52,0.52],[0.53,0.48],[0.53,0.6],[0.53,0.55],[0.54,0.66],[0.54,0.52],[0.54,0.6],[0.55,0.58],[0.55,0.4],[0.55,0.65],[0.56,0.62],[0.56,0.73],[0.56,0.55],[0.57,0.55],[0.57,0.65],[0.57,0.6],[0.58,0.5],[0.58,0.6],[0.58,0.68],[0.59,0.9],[0.59,0.68],[0.6,0.58],[0.6,0.76],[0.6,0.65],[0.61,0.62],[0.61,0.72],[0.62,0.72],[0.62,0.55],[0.63,0.66],[0.63,0.6],[0.64,0.75],[0.64,0.6],[0.64,0.68],[0.65,0.85],[0.65,0.7],[0.66,0.47],[0.66,0.78],[0.66,0.72],[0.67,0.64],[0.67,0.78],[0.68,0.73],[0.68,0.84],[0.69,0.68],[0.69,0.75],[0.7,0.8],[0.7,0.62],[0.71,0.76],[0.71,0.82],[0.72,0.85],[0.72,0.7],[0.73,0.98],[0.73,0.6],[0.73,0.72],[0.74,0.82],[0.74,0.97],[0.75,0.75],[0.75,0.85],[0.76,0.88],[0.76,0.7],[0.77,0.8],[0.77,1.06],[0.77,0.88],[0.78,0.92],[0.78,0.76],[0.79,0.84],[0.79,0.78],[0.8,0.95],[0.8,0.7],[0.81,0.88],[0.81,0.82],[0.82,0.9],[0.82,0.68],[0.83,0.82],[0.83,0.88],[0.84,1.05],[0.84,0.86],[0.85,0.93],[0.85,0.84],[0.86,0.78],[0.87,0.95],[0.88,0.85],[0.9,0.95],[0.9,0.91],[0.93,0.96]
]

// CHOCHO VCD scatter, [80 m, 298 m] in 1e14 molec cm-2
const glyVcdPairs = [
  [0.78,1.52],[0.78,1.16],[0.99,2.29],[1.05,1.34],[1.18,1.19],[1.19,1.3],[1.35,1.3],[1.34,0.8],[1.37,0.96],[1.42,1.55],[1.44,1.85],[1.47,0.86],[1.47,1.18],[1.55,1.78],[1.55,1.13],[1.63,1.8],[1.64,1.0],[1.7,1.37],[1.73,3.38],[1.73,2.37],[1.73,1.85],[1.73,1.42],[1.76,1.93],[1.8,1.9],[1.82,1.88],[1.81,1.75],[1.82,1.22],[1.82,0.57],[1.82,0.89],[1.85,1.25],[1.87,1.27],[1.85,0.86],[1.87,0.92],[1.88,1.58],[1.92,1.3],[1.95,1.3],[1.96,3.09],[1.97,1.77],[1.98,0.75],[2.0,0.96],[1.98,1.38],[2.0,1.5],[2.0,2.17],[2.02,1.33],[2.04,1.45],[2.05,1.15],[2.06,1.05],
  [2.12,3.14],[2.2,1.67],[2.2,1.25],[2.22,1.43],[2.24,1.12],[2.25,1.48],[2.24,2.75],[2.24,2.64],[2.27,1.7],[2.29,1.32],[2.33,3.32],[2.32,2.02],[2.32,1.07],[2.32,1.29],[2.32,0.77],[2.38,1.52],[2.38,1.68],[2.42,1.62],[2.45,1.6],[2.45,2.25],[2.45,2.07],[2.46,1.37],[2.47,1.78],[2.5,2.25],[2.5,0.88],[2.53,4.45],[2.55,2.72],[2.57,0.62],[2.6,2.41],[2.6,1.84],[2.6,1.62],[2.62,1.06],[2.64,2.28],[2.66,1.78],[2.68,2.02],[2.69,1.07],[2.7,0.87],[2.72,2.54],[2.72,1.64],[2.75,1.57],[2.76,1.84],[2.78,2.4],[2.79,2.96],[2.82,0.84],[2.83,1.97],[2.86,2.35],[2.86,2.87],[2.87,2.82],[2.88,1.42],[2.9,2.1],[2.9,1.33],[2.92,1.45],[2.93,2.88],[2.95,3.43],[2.95,3.3],[2.95,1.87],[2.96,1.55],[2.98,1.63],[2.99,1.95],[3.0,2.65],[3.0,1.51],
  [3.04,1.83],[3.05,1.3],[3.06,1.18],[3.06,2.04],[3.08,1.55],[3.08,1.92],[3.1,1.76],[3.1,2.86],[3.13,1.97],[3.14,2.15],[3.17,3.08],[3.17,2.37],[3.17,1.68],[3.24,2.38],[3.25,2.33],[3.27,0.95],[3.28,1.65],[3.28,1.72],[3.3,1.55],[3.28,2.28],[3.3,1.3],[3.3,1.2],[3.3,2.02],[3.34,2.31],[3.42,3.02],[3.4,1.29],[3.43,1.12],[3.44,1.77],[3.5,1.9],[3.5,0.87],[3.5,3.38],[3.53,3.39],[3.56,2.05],[3.57,2.07],[3.57,1.78],[3.56,1.22],[3.57,1.2],[3.6,2.45],[3.6,2.28],[3.62,2.08],[3.66,1.47],[3.7,2.64],[3.72,1.76],[3.74,1.76],[3.76,1.71],[3.8,1.66],[3.8,1.31],[3.82,1.04],[3.84,4.59],[3.85,1.68],[3.92,1.52],[3.93,2.36],[3.93,2.13],[3.93,1.05],[3.98,3.32],
  [4.22,2.0],[4.22,2.9],[4.23,1.04],[4.27,1.74],[4.3,1.74],[4.34,2.05],[4.33,1.57],[4.37,1.79],[4.41,2.18],[4.43,1.31],[4.46,2.3],[4.5,2.55],[4.53,1.0],[4.56,1.87],[4.64,3.55],[4.64,1.75],[4.8,1.83],[4.9,2.86],[4.98,4.55],[5.0,1.89],[5.27,4.78],[5.6,2.05],[5.62,2.74],[5.88,5.47],[5.99,2.57]
]

// CHOCHO conc. scatter, [80 m, 298 m] in 1e9 molec cm-3
const glyConcPairs = [
  [0.05,0.08],[0.21,0.74],[0.26,0.6],[0.27,0.51],[0.28,0.55],[0.37,1.1],[0.41,0.78],[0.41,0.64],[0.43,2.1],[0.43,1.85],[0.44,0.29],[0.45,0.47],[0.49,0.62],[0.49,0.88],[0.51,0.53],[0.52,0.62],[0.55,0.6],[0.58,1.21],[0.59,0.82],[0.66,0.9],[0.67,0.67],[0.7,0.47],[0.71,0.44],[0.72,0.7],[0.74,0.77],[0.75,1.82],[0.76,0.9],[0.77,0.58],[0.8,0.79],[0.82,0.49],[0.83,0.87],[0.87,1.28],[0.87,1.18],[0.9,0.85],[0.92,0.7],[0.93,1.0],[0.95,0.62],[0.97,0.26],[0.98,0.97],[0.98,0.68],[0.99,1.3],[1.0,0.58],
  [1.02,1.3],[1.03,0.96],[1.05,0.82],[1.06,1.15],[1.06,1.45],[1.07,0.66],[1.08,1.23],[1.1,0.83],[1.12,0.76],[1.13,1.88],[1.15,0.27],[1.15,1.1],[1.16,0.73],[1.17,1.92],[1.18,0.77],[1.2,1.06],[1.2,1.28],[1.21,1.8],[1.22,0.85],[1.24,1.02],[1.25,1.12],[1.26,0.7],[1.28,1.1],[1.3,0.53],[1.3,1.59],[1.3,1.35],[1.32,0.94],[1.33,0.78],[1.34,2.01],[1.35,1.1],[1.36,0.84],[1.37,1.22],[1.38,0.73],[1.38,0.93],[1.4,1.41],[1.4,2.23],[1.42,2.11],[1.42,0.6],[1.42,0.02],[1.43,1.63],[1.44,1.12],[1.44,0.82],[1.45,1.8],[1.46,1.92],[1.47,1.75],[1.49,0.96],[1.5,1.25],
  [1.52,1.55],[1.52,1.62],[1.52,0.88],[1.55,0.56],[1.55,1.27],[1.56,1.05],[1.58,1.3],[1.6,0.82],[1.6,1.83],[1.62,1.29],[1.63,0.85],[1.64,1.07],[1.65,2.28],[1.66,0.98],[1.66,0.5],[1.68,0.78],[1.7,1.89],[1.7,2.2],[1.73,1.04],[1.74,2.01],[1.75,0.85],[1.75,1.5],[1.76,1.18],[1.78,2.7],[1.79,1.32],[1.8,0.66],[1.82,1.81],[1.82,1.5],[1.83,2.22],[1.86,2.18],[1.86,1.27],[1.88,1.74],[1.9,1.0],[1.92,2.18],[1.92,1.55],[1.93,1.43],[1.95,2.45],[1.96,0.73],[1.97,2.09],[1.98,1.2],[2.0,2.27],[2.0,1.8],[2.01,1.13],[2.02,2.71],[2.02,1.01],[2.05,2.4],
  [2.07,1.12],[2.08,1.28],[2.11,2.14],[2.13,2.26],[2.13,1.62],[2.15,1.48],[2.16,1.5],[2.17,1.94],[2.19,2.38],[2.2,1.09],[2.2,1.98],[2.21,1.78],[2.22,1.94],[2.27,0.51],[2.3,1.66],[2.3,1.23],[2.33,2.4],[2.35,1.65],[2.37,1.89],[2.42,1.84],[2.43,2.69],[2.43,1.15],[2.44,2.34],[2.45,3.38],[2.45,1.48],[2.47,2.8],[2.5,1.79],[2.5,0.67],[2.54,2.38],[2.58,2.41],[2.6,1.93],[2.68,2.52],[2.68,3.18],[2.68,2.54],[2.75,1.22],[2.75,2.34],[2.8,2.8],[2.8,2.61],[2.83,2.37],[2.84,1.93],[2.85,2.21],[2.88,1.85],[2.9,1.87],[2.97,1.31],[2.97,2.42],[2.98,2.79],[3.0,2.75],[3.02,2.72],[3.04,3.4],
  [3.2,2.13],[3.26,2.84],[3.33,3.16],[3.34,2.65],[3.42,3.34],[3.56,3.29],[3.81,3.08],[3.95,2.14],[4.0,2.88],[4.3,3.07]
]

const FONT = 'DejaVu Sans'
const TS_MIN = 2
const TS_MAX = 44.1

const dateLabel = {}
monthTicks.forEach((m, i) => { dateLabel[m] = monthLabels[i] })
const monthMinor = []
for (let m = 2; m <= 44; m++) monthMinor.push(m)

const tickLine = { color: '#000', width: 1.3 }
const gridLine = { color: '#b0b0b0', width: 1, type: [1.5, 2.5] }
const tickFont = { fontFamily: FONT, fontSize: 19, color: '#000' }
const nameStyle = {
  fontFamily: FONT, fontSize: 19, color: '#000', lineHeight: 23,
  rich: { sup: { fontFamily: FONT, fontSize: 13, lineHeight: 12, verticalAlign: 'top', color: '#000' } }
}

const grids = []
const xAxes = []
const yAxes = []
const series = []

function addGrid(box) {
  grids.push({
    left: box[0], top: box[1], width: box[2], height: box[3],
    show: true, borderColor: '#000', borderWidth: 1.5,
    containLabel: false, outerBoundsMode: 'none'
  })
  return grids.length - 1
}

function valueAxis(g, min, max, ticks, digits, extra) {
  return Object.assign({
    type: 'value', gridIndex: g, min: min, max: max, nameMoveOverlap: false,
    axisLine: { show: false, onZero: false },
    axisTick: { show: true, length: 6.5, customValues: ticks, lineStyle: tickLine },
    axisLabel: Object.assign({ customValues: ticks, margin: 13, formatter: v => v.toFixed(digits) }, tickFont),
    splitLine: { show: true, showMinLine: false, showMaxLine: false, lineStyle: gridLine }
  }, extra)
}

function addTimePanel(box, yMax, yTicks, digits, name, gap, points, showDates) {
  const g = addGrid(box)
  // monthly minor ticks
  xAxes.push({
    type: 'value', gridIndex: g, position: 'bottom', min: TS_MIN, max: TS_MAX,
    axisLine: { show: false, onZero: false },
    axisTick: { show: true, length: 3.5, customValues: monthMinor, lineStyle: tickLine },
    axisLabel: { show: false }, splitLine: { show: false }
  })
  xAxes.push(valueAxis(g, TS_MIN, TS_MAX, monthTicks, 0, {
    position: 'bottom',
    axisLabel: Object.assign({
      show: showDates, customValues: monthTicks, rotate: 30, margin: 19,
      padding: [0, 6, 0, 0], formatter: v => dateLabel[v]
    }, tickFont)
  }))
  yAxes.push(valueAxis(g, 0, yMax, yTicks, digits, {
    name: name, nameLocation: 'middle', nameRotate: 90, nameGap: gap, nameTextStyle: nameStyle
  }))
  series.push({
    type: 'scatter', xAxisIndex: xAxes.length - 1, yAxisIndex: yAxes.length - 1,
    data: points, symbolSize: 4.5, itemStyle: { color: '#0000ff' }, silent: true
  })
}

function addScatterPanel(box, max, ticks, digits, xName, yName, xGap, yGap, points, k) {
  const g = addGrid(box)
  xAxes.push(valueAxis(g, 0, max, ticks, digits, {
    position: 'bottom', name: xName, nameLocation: 'middle', nameGap: xGap, nameTextStyle: nameStyle
  }))
  yAxes.push(valueAxis(g, 0, max, ticks, digits, {
    name: yName, nameLocation: 'middle', nameRotate: 90, nameGap: yGap, nameTextStyle: nameStyle
  }))
  const xi = xAxes.length - 1
  const yi = yAxes.length - 1
  const b = fitIntercept[k] / unitScale[k]
  const m = fitSlope[k]
  series.push({
    type: 'scatter', xAxisIndex: xi, yAxisIndex: yi, data: points,
    symbolSize: 4.5, itemStyle: { color: '#0000ff' }, silent: true
  })
  series.push({
    type: 'line', xAxisIndex: xi, yAxisIndex: yi, data: [[0, 0], [max, max]], symbol: 'none',
    lineStyle: { color: '#000', width: 1.2, type: [1.5, 2.5] }, silent: true, z: 3
  })
  series.push({
    type: 'line', xAxisIndex: xi, yAxisIndex: yi, data: [[0, b], [max, b + m * max]], symbol: 'none',
    lineStyle: { color: '#ff0000', width: 1.5 }, silent: true, z: 4
  })
}

// python-style exponent, e.g. 3.20e+09
function sci(v) {
  return v.toExponential(2).replace(/e([+-])(\d)$/, 'e$10$2')
}

function statText(k) {
  const cm = 'molec cm{sup|' + unitPower[k] + '}'
  return 'Slope = ' + fitSlope[k].toFixed(2) + '\n' +
    'Intercept = ' + sci(fitIntercept[k]) + ' ' + cm + '\n' +
    'R{sup|2} = ' + fitR2[k].toFixed(2) + '\n' +
    'Δ{sub|mean} = ' + sci(deltaMean[k]) + ' ' + cm + '\n' +
    'Δ{sub|sem} = ' + sci(deltaSem[k]) + ' ' + cm
}

function smallRich(color) {
  return {
    sup: { fontFamily: FONT, fontSize: 10.5, lineHeight: 10, verticalAlign: 'top', fill: color },
    sub: { fontFamily: FONT, fontSize: 10.5, lineHeight: 10, verticalAlign: 'bottom', fill: color }
  }
}

function statBlock(x, y, k) {
  return {
    type: 'text', x: x, y: y, z: 100, silent: true,
    style: {
      text: statText(k), fill: '#ff0000', fontFamily: FONT, fontSize: 15, lineHeight: 23,
      align: 'left', verticalAlign: 'top', rich: smallRich('#ff0000')
    }
  }
}

function outsideLabel(x, y, k) {
  return {
    type: 'text', x: x, y: y, z: 100, silent: true,
    style: {
      text: 'N{sub|outside} = ' + nOutside[k], fill: '#000', fontFamily: FONT, fontSize: 15,
      lineHeight: 23, align: 'left', verticalAlign: 'middle', rich: smallRich('#000')
    }
  }
}

// HCHO block
addTimePanel([204, 116, 796, 210], 3, hchoVcdTicks, 1, 'HCHO VCD @ 298 m\n(10{sup|16} molec cm{sup|−2})', 52.5, hchoVcd298, false)
addTimePanel([204, 368, 796, 210], 3, hchoVcdTicks, 1, 'HCHO VCD @ 80 m\n(10{sup|16} molec cm{sup|−2})', 52.5, hchoVcd80, true)
addTimePanel([204, 678, 796, 210], 1.6, hchoConcTsTicks, 1, 'HCHO conc. @ 298 m\n(10{sup|11} molec cm{sup|−3})', 52.5, hchoConc298, false)
addTimePanel([204, 930, 796, 210], 1.6, hchoConcTsTicks, 1, 'HCHO conc. @ 80 m\n(10{sup|11} molec cm{sup|−3})', 52.5, hchoConc80, true)
addScatterPanel([1113, 117, 466, 461], 3, hchoVcdTicks, 1,
  'HCHO VCD @ 80 m (10{sup|16} molec cm{sup|−2})', 'HCHO VCD @ 298 m (10{sup|16} molec cm{sup|−2})', 39.5, 51.5, hchoVcdPairs, 0)
addScatterPanel([1113, 678, 466, 462], 1.6, hchoConcScTicks, 1,
  'HCHO conc. @ 80 m (10{sup|11} molec cm{sup|−3})', 'HCHO conc. @ 298 m (10{sup|11} molec cm{sup|−3})', 40.5, 51.5, hchoConcPairs, 1)

// Glyoxal block
addTimePanel([1702, 120, 811, 214], 7, glyVcdTsTicks, 0, 'CHOCHO VCD @ 298 m\n(10{sup|14} molec cm{sup|−2})', 33.5, glyVcd298, false)
addTimePanel([1702, 377, 811, 214], 7, glyVcdTsTicks, 0, 'CHOCHO VCD @ 80 m\n(10{sup|14} molec cm{sup|−2})', 33.5, glyVcd80, true)
addTimePanel([1702, 676, 811, 214], 5, glyConcTicks, 0, 'CHOCHO conc. @ 298 m\n(10{sup|9} molec cm{sup|−3})', 33.5, glyConc298, false)
addTimePanel([1702, 932, 811, 214], 5, glyConcTicks, 0, 'CHOCHO conc. @ 80 m\n(10{sup|9} molec cm{sup|−3})', 33.5, glyConc80, true)
addScatterPanel([2628, 120, 474, 470], 7, glyVcdScTicks, 0,
  'CHOCHO VCD @ 80 m (10{sup|14} molec cm{sup|−2})', 'CHOCHO VCD @ 298 m (10{sup|14} molec cm{sup|−2})', 42, 35.5, glyVcdPairs, 2)
addScatterPanel([2628, 676, 472, 470], 5, glyConcTicks, 0,
  'CHOCHO conc. @ 80 m (10{sup|9} molec cm{sup|−3})', 'CHOCHO conc. @ 298 m (10{sup|9} molec cm{sup|−3})', 40, 35.5, glyConcPairs, 3)

const chart = echarts.init(document.getElementById('chart'))
chart.setOption({
  animation: false,
  backgroundColor: '#fff',
  grid: grids,
  xAxis: xAxes,
  yAxis: yAxes,
  series: series,
  graphic: [
    { type: 'text', x: 587, y: 81, z: 100, silent: true,
      style: { text: 'HCHO', fontFamily: 'Roboto', fontWeight: 'bold', fontSize: 69, fill: '#000', align: 'center', verticalAlign: 'middle' } },
    { type: 'text', x: 2087, y: 81, z: 100, silent: true,
      style: { text: 'Glyoxal', fontFamily: 'Roboto', fontWeight: 'bold', fontSize: 69, fill: '#000', align: 'center', verticalAlign: 'middle' } },
    statBlock(1132, 123, 0),
    statBlock(1132, 685, 1),
    statBlock(2647, 126, 2),
    statBlock(2647, 682, 3),
    outsideLabel(1439, 1111, 1),
    outsideLabel(2961, 561, 2),
    outsideLabel(2961, 1119, 3)
  ]
})
</script>
</body>
</html>
